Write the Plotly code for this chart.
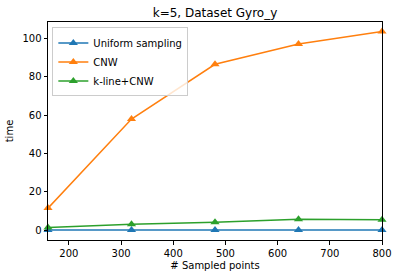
import plotly.graph_objects as go

x_points = [160, 320, 480, 640, 800]
uniform = [0.2, 0.2, 0.2, 0.2, 0.2]
cnw = [11.6, 58.0, 86.5, 97.0, 103.5]
kline_cnw = [1.5, 3.2, 4.3, 5.8, 5.6]

series = [
    ("Uniform sampling", uniform, "#1f77b4"),
    ("CNW", cnw, "#ff7f0e"),
    ("k-line+CNW", kline_cnw, "#2ca02c"),
]

fig = go.Figure()
for name, vals, col in series:
    fig.add_trace(go.Scatter(
        x=x_points, y=vals, name=name, mode="lines+markers",
        line=dict(color=col, width=1.5),
        marker=dict(symbol="triangle-up", size=8, color=col),
        cliponaxis=False,
    ))

axis_common = dict(
    showline=True, linecolor="black", linewidth=1, mirror=True,
    ticks="outside", ticklen=3.5, tickcolor="black", showgrid=False,
    zeroline=False, tickfont=dict(size=10, color="black"), automargin=False,
)

fig.update_layout(
    width=398, height=278,
    margin=dict(l=48, r=16, t=22, b=38),
    paper_bgcolor="white", plot_bgcolor="white",
    font=dict(family="DejaVu Sans", size=10, color="black"),
    title=dict(text="k=5, Dataset Gyro_y", x=0.5, xref="paper", xanchor="center",
               y=1 - 13 / 278, yanchor="middle", font=dict(size=12)),
    xaxis=dict(range=[160, 800], tickvals=[200, 300, 400, 500, 600, 700, 800],
               title=dict(text="# Sampled points", font=dict(size=10), standoff=4), **axis_common),
    yaxis=dict(range=[-5.0, 108.5], tickvals=[0, 20, 40, 60, 80, 100],
               title=dict(text="time", font=dict(size=10), standoff=6), **axis_common),
    legend=dict(x=0.013, y=0.975, xanchor="left", yanchor="top",
                bordercolor="#cccccc", borderwidth=1, bgcolor="rgba(255,255,255,0.8)",
                font=dict(size=10), tracegroupgap=0, itemwidth=30),
    showlegend=True,
)

fig.write_html("out.html", config={"displayModeBar": False},
               post_script="document.body.style.margin='0';document.body.style.padding='0';")
